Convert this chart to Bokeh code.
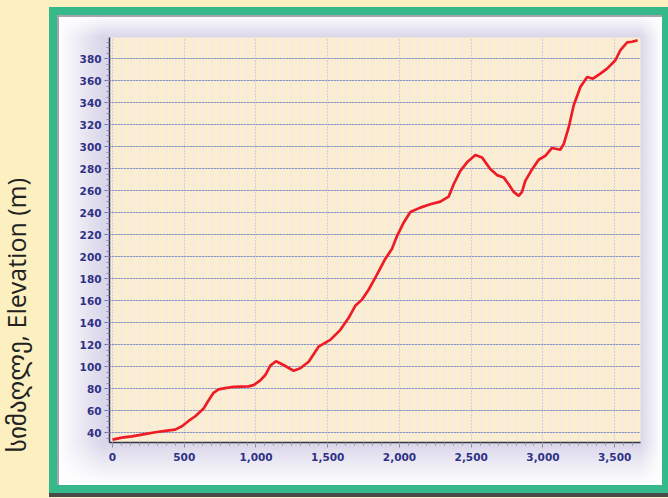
from bokeh.plotting import figure
from bokeh.models import Range1d, SingleIntervalTicker, NumeralTickFormatter, Grid, Div, Spacer
from bokeh.layouts import row, column
from bokeh.embed import file_html
from bokeh.resources import INLINE

# Distance along route (m) and elevation (m)
distance = [0, 65, 135, 205, 298, 379, 437, 484, 530, 577, 635, 670, 704, 739, 786,
            844, 948, 983, 1030, 1065, 1100, 1139, 1192, 1262, 1309, 1367, 1436, 1518,
            1588, 1645, 1692, 1739, 1785, 1843, 1901, 1948, 1983, 2029, 2076, 2145,
            2215, 2285, 2343, 2378, 2424, 2471, 2529, 2575, 2633, 2680, 2726, 2761,
            2796, 2831, 2854, 2877, 2924, 2970, 3017, 3063, 3121, 3145, 3180, 3214,
            3261, 3308, 3349, 3400, 3447, 3505, 3540, 3587, 3621, 3660]
elevation = [33.6, 35.4, 36.6, 38.2, 40.3, 41.8, 42.7, 45.8, 50.6, 54.9, 61.9, 69.5,
             76.2, 79.3, 80.5, 81.7, 82.1, 83.2, 87.5, 92.4, 101.0, 104.9, 101.5, 96.3,
             98.5, 104.5, 118.2, 124.4, 133.5, 144.2, 155.4, 161.0, 170.0, 183.8, 198.0,
             207.3, 218.8, 231.0, 240.7, 244.7, 247.8, 250.2, 254.8, 266.0, 278.2, 285.9,
             292.5, 290.4, 279.8, 274.3, 272.2, 266.0, 259.0, 255.4, 259.0, 269.0, 279.5,
             288.3, 291.9, 299.0, 297.4, 302.6, 317.9, 337.6, 354.4, 363.6, 362.0, 366.6,
             371.2, 378.8, 388.0, 395.0, 395.6, 397.0]

y_label = "სიმაღლე, Elevation (m)"
x_tick_step = 500
y_tick_step = 20

p = figure(width=605, height=470, output_backend="svg", toolbar_location=None,
           x_range=Range1d(-21, 3680), y_range=Range1d(31, 399.5),
           min_border_left=52, min_border_right=22, min_border_top=22, min_border_bottom=43)
p.title.visible = False
p.background_fill_color = "#FBEDCF"
p.border_fill_color = None
p.outline_line_color = None
p.styles = {
    "box-shadow": "inset 2px 2px 0 #A4A4AC, 0 0 0 8px #35B98A, 0 4px 0 8px #4A4A4A",
    "background": ("linear-gradient(to right, #FFFFFF 0px, rgba(255,255,255,0) 46px), "
                   "linear-gradient(to left, #FFFFFF 0px, rgba(255,255,255,0) 22px), "
                   "linear-gradient(to bottom, #FFFFFF 0px, rgba(255,255,255,0) 22px), "
                   "linear-gradient(to top, #FFFFFF 0px, rgba(255,255,255,0) 42px), #DAD6EA"),
}

p.xaxis.ticker = SingleIntervalTicker(interval=x_tick_step, num_minor_ticks=8)
p.yaxis.ticker = SingleIntervalTicker(interval=y_tick_step, num_minor_ticks=4)
p.xaxis.formatter = NumeralTickFormatter(format="0,0")

for ax in (p.xaxis, p.yaxis):
    ax.major_label_text_font = "DejaVu Sans"
    ax.major_label_text_font_style = "bold"
    ax.major_label_text_font_size = "10.5px"
    ax.major_label_text_color = "#2F3185"
    ax.major_tick_in = 0
    ax.minor_tick_in = 0
    ax.major_tick_out = 5
    ax.minor_tick_out = 3

p.yaxis.axis_line_color = "#2B2B66"
p.yaxis.axis_line_width = 1.5
p.yaxis.major_tick_line_color = "#6E6E96"
p.yaxis.minor_tick_line_color = "#8A8AA8"
p.yaxis.major_label_standoff = 3
p.xaxis.axis_line_color = "#33333F"
p.xaxis.axis_line_width = 1.5
p.xaxis.major_tick_line_color = "#8A8A96"
p.xaxis.minor_tick_line_color = "#9A9AA6"
p.xaxis.major_label_standoff = 5

p.xgrid.grid_line_color = "#BDB4C8"
p.xgrid.grid_line_dash = "1 2"
p.xgrid.minor_grid_line_color = "#F2E9E8"
p.xgrid.minor_grid_line_width = 1.5
p.ygrid.grid_line_color = "#C4C4D0"
p.ygrid.grid_line_width = 1
p.add_layout(Grid(dimension=1, ticker=SingleIntervalTicker(interval=y_tick_step),
                  grid_line_color="#5565B8", grid_line_dash="1 2", grid_line_width=1))

p.line(distance, elevation, line_color="#EE1C25", line_width=2.7)

label_html = (
    '<div style="position:relative;width:57px;height:485px;">'
    '<div style="position:absolute;left:16px;top:315px;'
    'writing-mode:vertical-rl;transform:translate(-50%,-50%) rotate(180deg);white-space:nowrap;'
    "font-family:'Open Sans','DejaVu Sans',sans-serif;font-size:25px;line-height:28px;color:#222222;\">"
    + y_label + '</div></div>'
)
label = Div(text=label_html, width=57, height=485, margin=(0, 0, 0, 0))

layout = row(label, column(Spacer(width=605, height=15, margin=(0, 0, 0, 0)), p))

html = file_html(layout, INLINE)
page_css = ("<style>html, body { background: #FCEFC0 !important; margin: 0 !important; "
            "padding: 0 !important; overflow: hidden !important; }</style>")
idx = html.rfind("</body>")
html = html[:idx] + page_css + html[idx:]
open("out.html", "w").write(html)
